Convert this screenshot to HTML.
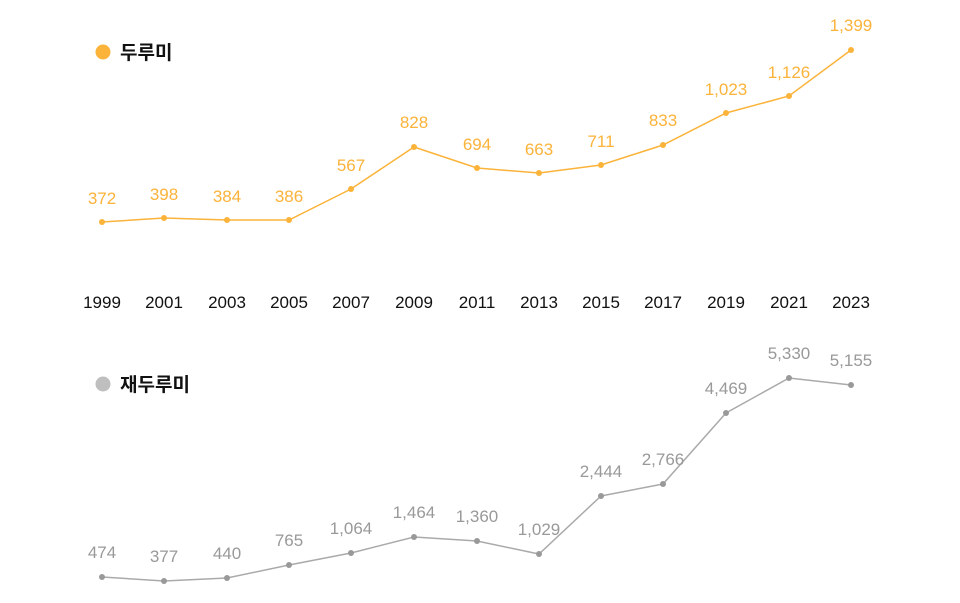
<!DOCTYPE html>
<html><head><meta charset="utf-8"><style>body{margin:0;background:#fff}svg{display:block}</style></head><body>
<svg width="960" height="603" viewBox="0 0 960 603" xmlns="http://www.w3.org/2000/svg" font-family="Liberation Sans, Noto Sans CJK KR, sans-serif">
<circle cx="103" cy="52" r="7.5" fill="#FBB33A"/>
<text x="120" y="59" font-size="19" font-weight="bold" fill="#111" font-family="Noto Sans CJK KR, sans-serif">두루미</text>
<circle cx="103" cy="384" r="7.5" fill="#BFBFBF"/>
<text x="120" y="391" font-size="19" font-weight="bold" fill="#111" font-family="Noto Sans CJK KR, sans-serif">재두루미</text>
<polyline fill="none" stroke="#FBB33A" stroke-width="1.5" points="102,222 164,218 227,220 289,220 351,189 414,147 477,168 539,173 601,165 663,145 726,113 789,96 851,50"/>
<g fill="#FBB33A">
<circle cx="102" cy="222" r="3"/><circle cx="164" cy="218" r="3"/><circle cx="227" cy="220" r="3"/><circle cx="289" cy="220" r="3"/><circle cx="351" cy="189" r="3"/><circle cx="414" cy="147" r="3"/><circle cx="477" cy="168" r="3"/><circle cx="539" cy="173" r="3"/><circle cx="601" cy="165" r="3"/><circle cx="663" cy="145" r="3"/><circle cx="726" cy="113" r="3"/><circle cx="789" cy="96" r="3"/><circle cx="851" cy="50" r="3"/>
</g>
<g fill="#FBB33A" font-size="17" text-anchor="middle">
<text x="102" y="204">372</text><text x="164" y="200">398</text><text x="227" y="202">384</text><text x="289" y="202">386</text><text x="351" y="171">567</text><text x="414" y="128">828</text><text x="477" y="150">694</text><text x="539" y="155">663</text><text x="601" y="147">711</text><text x="663" y="126">833</text><text x="726" y="95">1,023</text><text x="789" y="78">1,126</text><text x="851" y="31">1,399</text>
</g>
<g fill="#111" font-size="17" text-anchor="middle">
<text x="102" y="308">1999</text><text x="164" y="308">2001</text><text x="227" y="308">2003</text><text x="289" y="308">2005</text><text x="351" y="308">2007</text><text x="414" y="308">2009</text><text x="477" y="308">2011</text><text x="539" y="308">2013</text><text x="601" y="308">2015</text><text x="663" y="308">2017</text><text x="726" y="308">2019</text><text x="789" y="308">2021</text><text x="851" y="308">2023</text>
</g>
<polyline fill="none" stroke="#AAAAAA" stroke-width="1.5" points="102,577 164,581 227,578 289,565 351,553 414,537 477,541 539,554 601,496 663,484 726,413 789,378 851,385"/>
<g fill="#999">
<circle cx="102" cy="577" r="3"/><circle cx="164" cy="581" r="3"/><circle cx="227" cy="578" r="3"/><circle cx="289" cy="565" r="3"/><circle cx="351" cy="553" r="3"/><circle cx="414" cy="537" r="3"/><circle cx="477" cy="541" r="3"/><circle cx="539" cy="554" r="3"/><circle cx="601" cy="496" r="3"/><circle cx="663" cy="484" r="3"/><circle cx="726" cy="413" r="3"/><circle cx="789" cy="378" r="3"/><circle cx="851" cy="385" r="3"/>
</g>
<g fill="#999" font-size="17" text-anchor="middle">
<text x="102" y="558">474</text><text x="164" y="562">377</text><text x="227" y="559">440</text><text x="289" y="546">765</text><text x="351" y="534">1,064</text><text x="414" y="518">1,464</text><text x="477" y="522">1,360</text><text x="539" y="535">1,029</text><text x="601" y="477">2,444</text><text x="663" y="465">2,766</text><text x="726" y="394">4,469</text><text x="789" y="359">5,330</text><text x="851" y="366">5,155</text>
</g>
</svg>
</body></html>
